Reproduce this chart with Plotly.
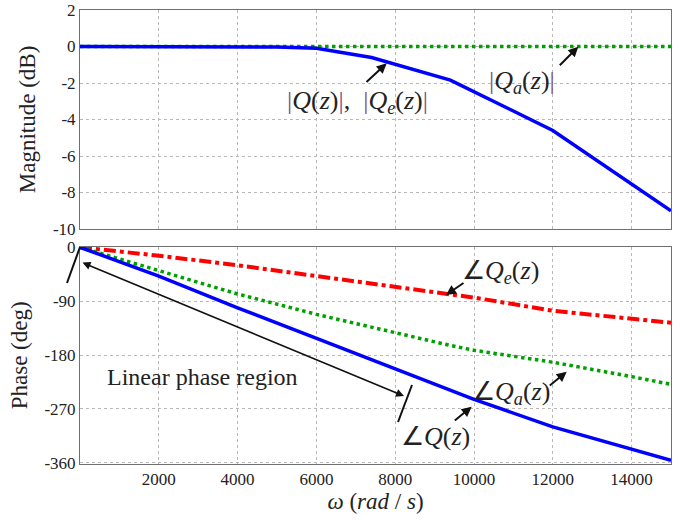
import plotly.graph_objects as go
from plotly.subplots import make_subplots

# ---------------- data ----------------
mag_w = [0, 2000, 4000, 5000, 6000, 7400, 9400, 12000, 15000]
mag_q = [0, 0, 0, -0.03, -0.1, -0.6, -1.84, -4.6, -9.0]       # |Q(z)|, |Qe(z)|
mag_qa_w = [0, 15000]
mag_qa = [0, 0]                                               # |Qa(z)|

ph_w = [0, 2000, 4000, 6000, 8000, 9400, 10000, 12000, 14000, 15000]
ph_q = [0, -48, -101, -152, -203, -238, -254, -300, -338, -356]    # angle Q(z)
ph_qa = [0, -39, -78, -112, -143, -164, -172, -192, -216, -229]    # angle Qa(z)
ph_qe = [0, -14, -30, -48, -66, -78, -84, -106, -119, -126]        # angle Qe(z)

x_ticks = [2000, 4000, 6000, 8000, 10000, 12000, 14000]
x_labels = ["2000", "4000", "6000", "8000", "10000", "12000", "14000"]
mag_ticks = [2, 0, -2, -4, -6, -8, -10]
mag_labels = ["2", "0", "-2", "-4", "-6", "-8", "-10"]
ph_ticks = [0, -90, -180, -270, -360]
ph_labels = ["0", "-90", "-180", "-270", "-360"]

# ---------------- layout helpers ----------------
W, H = 698, 523
L, R, T, B = 80, 27, 10, 59
PW, PH = W - L - R, H - T - B


def px(x):
    return (x - L) / PW


def py(y):
    return (H - B - y) / PH


FONT = "Times New Roman, Liberation Serif, serif"
BLUE = "#0000ff"
GREEN = "#00a000"
RED = "#ff0000"
BAR = "#7d4e7d"

fig = make_subplots(rows=2, cols=1, shared_xaxes=False, vertical_spacing=0.04)

fig.add_trace(go.Scatter(x=mag_qa_w, y=mag_qa, mode="lines",
                         line=dict(color=GREEN, width=3.5, dash="dot")), row=1, col=1)
fig.add_trace(go.Scatter(x=mag_w, y=mag_q, mode="lines",
                         line=dict(color=BLUE, width=3.5)), row=1, col=1)

fig.add_trace(go.Scatter(x=ph_w, y=ph_qe, mode="lines",
                         line=dict(color=RED, width=4, dash="dashdot")), row=2, col=1)
fig.add_trace(go.Scatter(x=ph_w, y=ph_qa, mode="lines",
                         line=dict(color=GREEN, width=3.5, dash="dot")), row=2, col=1)
fig.add_trace(go.Scatter(x=ph_w, y=ph_q, mode="lines",
                         line=dict(color=BLUE, width=3.5)), row=2, col=1)

axis_common = dict(showline=True, mirror=True, linecolor="#707070", linewidth=1,
                   showgrid=True, gridcolor="#b8b8b8", griddash="dot", gridwidth=1,
                   zeroline=False, ticks="", automargin=False, ticklabeloverflow="allow",
                   tickfont=dict(family=FONT, size=17, color="#222"))

fig.update_xaxes(range=[0, 15000], tickvals=x_ticks, ticktext=x_labels, **axis_common)
fig.update_xaxes(showticklabels=False, row=1, col=1)
fig.update_xaxes(title=dict(text="<i>ω</i> (<i>rad</i> / <i>s</i>)",
                            font=dict(family=FONT, size=23, color="#222"), standoff=4),
                 row=2, col=1)

fig.update_yaxes(range=[-10, 2], tickvals=mag_ticks, ticktext=mag_labels,
                 **axis_common, row=1, col=1)
fig.update_yaxes(title=dict(text="Magnitude (dB)", font=dict(family=FONT, size=23, color="#222"),
                            standoff=10), row=1, col=1)
fig.update_yaxes(range=[-362, 1], tickvals=ph_ticks, ticktext=ph_labels,
                 **axis_common, row=2, col=1)
fig.update_yaxes(title=dict(text="Phase (deg)", font=dict(family=FONT, size=23, color="#222"),
                            standoff=10), row=2, col=1)

top_dom = [py(229), py(10)]
bot_dom = [py(464), py(246.7)]
fig.update_layout(yaxis=dict(domain=top_dom), yaxis2=dict(domain=bot_dom))

bar = f"<span style='color:{BAR}'>|</span>"
ann_font = dict(family=FONT, size=26, color="#222")
texts = [
    (357, 102, f"{bar}<i>Q</i>(<i>z</i>){bar},  {bar}<i>Q<sub>e</sub></i>(<i>z</i>){bar}"),
    (522, 82, f"{bar}<i>Q<sub>a</sub></i>(<i>z</i>){bar}"),
    (500, 272, "∠<i>Q<sub>e</sub></i>(<i>z</i>)"),
    (511, 393, "∠<i>Q<sub>a</sub></i>(<i>z</i>)"),
    (435, 436, "∠<i>Q</i>(<i>z</i>)"),
    (202, 377, "Linear phase region"),
]
annotations = []
for x, y, t in texts:
    f = dict(ann_font)
    if t.startswith("Linear"):
        f["size"] = 24
    annotations.append(dict(x=px(x), y=py(y), xref="paper", yref="paper", text=t,
                            showarrow=False, font=f, xanchor="center", yanchor="middle"))

arrows = [
    ((386.7, 63.3), (365, 83.3)),
    ((578.3, 46.7), (558.3, 66.7)),
    ((446, 295), (465, 282)),
    ((566.7, 371.7), (548.3, 386.7)),
    ((471.7, 406.7), (453.3, 421.7)),
]
for (tx, ty), (sx, sy) in arrows:
    annotations.append(dict(x=px(tx), y=py(ty), xref="paper", yref="paper", text="",
                            showarrow=True, ax=sx - tx, ay=sy - ty, arrowhead=2,
                            arrowsize=1, arrowwidth=2, arrowcolor="#111"))
# linear phase region double arrow
annotations.append(dict(x=px(404), y=py(396), xref="paper", yref="paper", text="",
                        showarrow=True, ax=81 - 404, ay=262 - 396, arrowhead=2,
                        startarrowhead=2, arrowside="end+start", arrowsize=1,
                        arrowwidth=1.6, arrowcolor="#111"))

shapes = [
    dict(type="line", xref="paper", yref="paper", x0=px(67), y0=py(283), x1=px(80), y1=py(247),
         line=dict(color="#111", width=2)),
    dict(type="line", xref="paper", yref="paper", x0=px(398), y0=py(422), x1=px(412), y1=py(385),
         line=dict(color="#111", width=2)),
]

fig.update_layout(width=W, height=H,
                  margin=dict(l=L, r=R, t=T, b=B, autoexpand=False),
                  paper_bgcolor="white", plot_bgcolor="white", showlegend=False,
                  annotations=annotations, shapes=shapes,
                  font=dict(family=FONT, color="#222"))

# remove the default page margin so the figure sits at the window's top-left corner
fig.write_html("out.html", config={"displayModeBar": False},
               post_script="document.body.style.margin='0px';")
